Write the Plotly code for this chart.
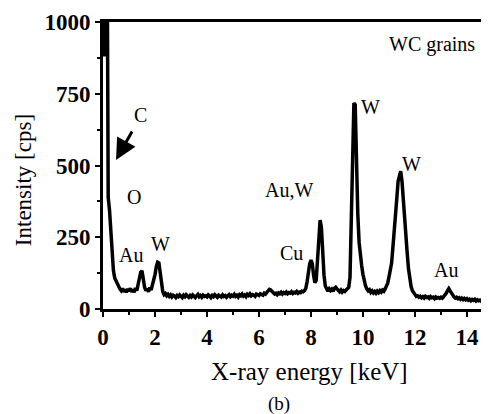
import plotly.graph_objects as go

# ---- data ----
energy_step_kev = 0.05  # spectrum channels: 0.00, 0.05, ... keV

counts_0 = [1400, 880, 1800, 1500, 390, 345, 280, 190, 135, 108, 98, 88, 76, 70, 64, 72, 60, 68, 58, 70]
counts_1 = [62, 72, 60, 68, 58, 73, 64, 82, 106, 128, 133, 102, 76, 64, 71, 60, 75, 66, 82, 96]
counts_2 = [120, 148, 163, 160, 128, 88, 60, 50, 54, 46, 51, 44, 49, 42, 48, 45, 40, 47, 43, 49]
counts_3 = [44, 40, 48, 43, 50, 45, 41, 47, 42, 49, 44, 40, 46, 51, 43, 47, 41, 48, 44, 46]
counts_4 = [42, 49, 45, 40, 47, 43, 50, 44, 41, 48, 45, 42, 49, 44, 47, 41, 46, 50, 43, 48]
counts_5 = [45, 51, 44, 48, 42, 50, 46, 52, 45, 49, 43, 51, 47, 53, 46, 50, 48, 44, 52, 49]
counts_6 = [47, 53, 50, 48, 55, 52, 58, 62, 68, 66, 60, 56, 52, 55, 50, 56, 53, 58, 52, 57]
counts_7 = [54, 59, 53, 57, 55, 60, 54, 58, 56, 61, 55, 59, 57, 62, 60, 64, 72, 95, 128, 158]
counts_8 = [170, 158, 118, 92, 100, 180, 265, 310, 285, 195, 118, 80, 67, 62, 70, 64, 69, 62, 72, 76]
counts_9 = [70, 64, 60, 66, 59, 64, 61, 66, 70, 75, 110, 290, 530, 718, 712, 480, 330, 232, 182, 150]
counts_10 = [120, 96, 80, 70, 63, 67, 58, 63, 56, 61, 55, 62, 57, 64, 59, 66, 62, 70, 78, 90]
counts_11 = [112, 135, 160, 215, 285, 330, 385, 445, 470, 480, 445, 370, 300, 250, 195, 140, 100, 78, 64, 56]
counts_12 = [48, 44, 46, 41, 44, 39, 43, 38, 44, 40, 42, 37, 43, 39, 41, 36, 42, 38, 40, 37]
counts_13 = [41, 38, 43, 48, 55, 64, 71, 63, 54, 47, 42, 38, 41, 36, 39, 34, 38, 33, 37, 32]
counts_14 = [36, 31, 34, 29, 33, 30, 34, 28, 32, 29, 31, 27, 30, 28, 31, 26, 29, 27, 30, 28]

counts = (counts_0 + counts_1 + counts_2 + counts_3 + counts_4 + counts_5 + counts_6
          + counts_7 + counts_8 + counts_9 + counts_10 + counts_11 + counts_12
          + counts_13 + counts_14)
energy = [round(i * energy_step_kev, 2) for i in range(len(counts))]

x_ticks = [0, 2, 4, 6, 8, 10, 12, 14]
y_ticks = [0, 250, 500, 750, 1000]

peak_labels = ["WC grains", "C", "O", "Au", "W", "Cu", "Au,W", "W", "W", "Au"]
peak_label_x = [12.64, 1.46, 1.21, 1.07, 2.23, 7.26, 7.15, 10.27, 11.87, 13.18]
peak_label_y = [920, 676, 390, 188, 226, 195, 415, 704, 505, 136]

arrow_tip = (0.50, 519)
arrow_tail = (1.15, 624)

FONT = "Liberation Serif"

fig = go.Figure()
fig.add_trace(go.Scatter(x=energy, y=counts, mode="lines",
                         line=dict(color="black", width=3.5), hoverinfo="skip"))

annotations = []
for t, ax_, ay_ in zip(peak_labels, peak_label_x, peak_label_y):
    annotations.append(dict(x=ax_, y=ay_, xref="x", yref="y", text=t, showarrow=False,
                            xanchor="center", yanchor="middle",
                            font=dict(family=FONT, size=20, color="black")))
annotations.append(dict(x=arrow_tip[0], y=arrow_tip[1], ax=arrow_tail[0], ay=arrow_tail[1],
                        xref="x", yref="y", axref="x", ayref="y", text="", showarrow=True,
                        arrowhead=2, arrowsize=1.4, arrowwidth=3, arrowcolor="black"))
annotations.append(dict(x=0.525, y=-0.2195, xref="paper", yref="paper", text="X-ray energy [keV]",
                        showarrow=False, xanchor="center", yanchor="middle",
                        font=dict(family=FONT, size=25, color="black")))
annotations.append(dict(x=-0.203, y=0.449, xref="paper", yref="paper", text="Intensity [cps]",
                        showarrow=False, xanchor="center", yanchor="middle", textangle=-90,
                        font=dict(family=FONT, size=23, color="black")))
annotations.append(dict(x=0.447, y=-0.331, xref="paper", yref="paper", text="(b)",
                        showarrow=False, xanchor="center", yanchor="middle",
                        font=dict(family=FONT, size=19, color="black")))

# page body adds an 8px offset; the plot is allowed to run past the right edge (cropped, as in the reference)
fig.update_layout(
    width=489, height=414,
    margin=dict(l=95, r=0, t=14, b=113),
    plot_bgcolor="white", paper_bgcolor="white",
    showlegend=False,
    annotations=annotations,
    xaxis=dict(range=[0, 15.154], tickvals=x_ticks, ticks="outside", ticklen=5, tickwidth=2,
               tickcolor="black", showline=True, linewidth=3, linecolor="black", mirror=True,
               showgrid=False, zeroline=False,
               tickfont=dict(family=FONT, size=23, color="black", weight="bold"),
               minor=dict(dtick=1, tick0=0, ticks="outside", ticklen=3, tickwidth=2,
                          tickcolor="black", showgrid=False)),
    yaxis=dict(range=[0, 1000], tickvals=y_ticks, ticks="outside", ticklen=5, tickwidth=2,
               tickcolor="black", showline=True, linewidth=3, linecolor="black", mirror=False,
               showgrid=False, zeroline=False,
               tickfont=dict(family=FONT, size=23, color="black", weight="bold"),
               minor=dict(dtick=125, tick0=0, ticks="outside", ticklen=3, tickwidth=2,
                          tickcolor="black", showgrid=False)),
)

fig.write_html("out.html")
